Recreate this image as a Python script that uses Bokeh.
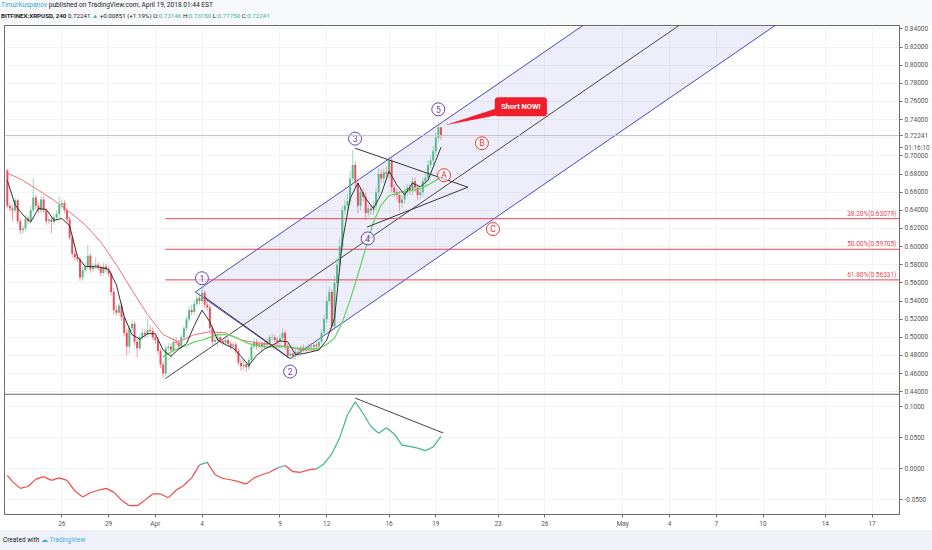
from bokeh.core.properties import value
from bokeh.embed import file_html
from bokeh.layouts import column
from bokeh.models import ColumnDataSource, Div, FixedTicker, Range1d, Span
from bokeh.plotting import figure
from bokeh.resources import INLINE

# 4h candles; time is in days from Apr 1 00:00
T0 = -9.5
STEP = 1 / 6
open_first = 0.684
close = [
    0.645, 0.642, 0.640, 0.651, 0.628, 0.618, 0.620, 0.631, 0.628, 0.640, 0.654, 0.645,
    0.640, 0.652, 0.640, 0.628, 0.630, 0.627, 0.632, 0.636, 0.646, 0.648, 0.640, 0.630,
    0.610, 0.592, 0.588, 0.586, 0.566, 0.574, 0.578, 0.590, 0.575, 0.578, 0.580, 0.577,
    0.571, 0.578, 0.575, 0.570, 0.550, 0.530, 0.527, 0.535, 0.522, 0.505, 0.490, 0.510,
    0.515, 0.495, 0.488, 0.500, 0.505, 0.503, 0.508, 0.507, 0.500, 0.497, 0.485, 0.470,
    0.460, 0.488, 0.490, 0.486, 0.495, 0.494, 0.490, 0.500, 0.510, 0.520, 0.530, 0.528,
    0.537, 0.543, 0.540, 0.549, 0.536, 0.533, 0.510, 0.495, 0.497, 0.500, 0.496, 0.494,
    0.497, 0.493, 0.490, 0.492, 0.485, 0.472, 0.468, 0.470, 0.467, 0.475, 0.490, 0.495,
    0.490, 0.493, 0.490, 0.494, 0.492, 0.500, 0.500, 0.497, 0.495, 0.499, 0.505, 0.490,
    0.480, 0.482, 0.479, 0.484, 0.483, 0.488, 0.486, 0.488, 0.490, 0.489, 0.492, 0.490,
    0.495, 0.505, 0.520, 0.540, 0.550, 0.512, 0.560, 0.580, 0.600, 0.640, 0.645, 0.650,
    0.675, 0.690, 0.670, 0.645, 0.660, 0.655, 0.637, 0.642, 0.640, 0.645, 0.660, 0.680,
    0.675, 0.682, 0.680, 0.695, 0.665, 0.660, 0.657, 0.648, 0.652, 0.660, 0.665, 0.662,
    0.672, 0.665, 0.657, 0.660, 0.672, 0.676, 0.690, 0.695, 0.705, 0.720, 0.73146, 0.72241,
]
# wick lengths in thousandths
up_wick = [
    2, 3, 4, 3, 2, 3, 3, 4, 3, 5, 22, 3,
    4, 3, 3, 2, 3, 3, 3, 4, 9, 4, 3, 2,
    3, 3, 4, 3, 3, 4, 4, 12, 3, 4, 8, 3,
    3, 4, 3, 3, 3, 4, 5, 3, 3, 3, 4, 3,
    4, 3, 3, 3, 5, 4, 12, 6, 4, 3, 3, 3,
    3, 3, 4, 3, 4, 5, 3, 3, 3, 4, 4, 6,
    4, 4, 5, 6, 3, 4, 4, 3, 4, 5, 3, 3,
    4, 3, 3, 3, 3, 3, 4, 5, 3, 3, 3, 4,
    3, 4, 3, 3, 4, 3, 4, 3, 3, 4, 5, 3,
    3, 4, 3, 3, 4, 3, 4, 3, 3, 4, 3, 3,
    3, 4, 5, 5, 6, 3, 8, 8, 10, 5, 6, 8,
    8, 16, 4, 5, 6, 5, 4, 4, 4, 5, 5, 6,
    5, 5, 6, 5, 4, 4, 4, 4, 5, 4, 4, 4,
    5, 4, 3, 4, 4, 5, 5, 5, 6, 6, 6, 0,
]
dn_wick = [
    3, 3, 12, 3, 3, 4, 4, 3, 4, 3, 3, 4,
    3, 3, 3, 4, 3, 12, 3, 3, 4, 3, 3, 4,
    3, 4, 3, 3, 4, 3, 3, 3, 4, 3, 3, 4,
    4, 3, 3, 3, 4, 5, 3, 3, 4, 4, 10, 8,
    3, 4, 10, 3, 3, 4, 3, 3, 3, 4, 4, 4,
    5, 3, 3, 8, 3, 3, 4, 3, 3, 3, 3, 4,
    3, 3, 4, 3, 4, 4, 4, 5, 4, 8, 3, 3,
    4, 3, 4, 3, 4, 3, 5, 4, 5, 3, 3, 3,
    4, 3, 6, 3, 3, 4, 3, 3, 3, 3, 3, 4,
    3, 4, 3, 3, 4, 3, 3, 4, 3, 3, 3, 3,
    3, 3, 3, 4, 4, 6, 4, 4, 5, 5, 5, 5,
    5, 5, 5, 8, 5, 5, 8, 5, 5, 5, 5, 5,
    5, 5, 5, 5, 5, 5, 5, 8, 5, 5, 5, 5,
    5, 5, 6, 5, 5, 4, 4, 4, 5, 5, 5, 5,
]

# moving averages
black_ma = [  # every 3rd candle from 0, then the last one
    0.673, 0.646, 0.635, 0.627, 0.642, 0.641, 0.629, 0.631, 0.623, 0.589, 0.578, 0.578,
    0.577, 0.575, 0.558, 0.523, 0.503, 0.498, 0.504, 0.504, 0.486, 0.479, 0.487, 0.493,
    0.513, 0.530, 0.517, 0.497, 0.492, 0.488, 0.479, 0.469, 0.480, 0.487, 0.491, 0.496,
    0.495, 0.481, 0.482, 0.484, 0.486, 0.497, 0.521, 0.605, 0.653, 0.670, 0.653, 0.642,
    0.658, 0.683, 0.668, 0.657, 0.670, 0.666, 0.673, 0.695, 0.7095,
]
green_ma = [  # every 3rd candle from 60, then the last one
    0.4785, 0.484, 0.488, 0.491, 0.495, 0.497, 0.500, 0.503, 0.503, 0.501, 0.497, 0.493,
    0.491, 0.4895, 0.4895, 0.4895, 0.4895, 0.488, 0.488, 0.487, 0.488, 0.492, 0.499, 0.517,
    0.541, 0.569, 0.598, 0.627, 0.646, 0.656, 0.659, 0.661, 0.662, 0.664, 0.668, 0.673,
    0.6765,
]
red_ma = [  # every 6th candle from 0 to 120
    0.681, 0.673, 0.662, 0.651, 0.638, 0.624, 0.605, 0.580, 0.552, 0.525, 0.503, 0.495,
    0.503, 0.506, 0.505, 0.497, 0.494, 0.492, 0.4895, 0.486, 0.486,
]
osc = [  # candle 0, then every 3rd candle from 2
    -0.011,
    -0.021, -0.032, -0.029, -0.017, -0.013, -0.019, -0.015, -0.019, -0.036, -0.046,
    -0.039, -0.035, -0.032, -0.038, -0.051, -0.060, -0.060, -0.051, -0.041, -0.041,
    -0.047, -0.035, -0.027, -0.015, 0.006, 0.010, -0.010, -0.016, -0.018, -0.021,
    -0.025, -0.015, -0.010, -0.006, 0.001, 0.005, -0.005, -0.006, -0.002, -0.0005,
    0.008, 0.024, 0.050, 0.087, 0.108, 0.089, 0.068, 0.057, 0.066, 0.056,
    0.038, 0.036, 0.033, 0.029, 0.035, 0.052,
]

x_ticks = [-6, -3, 0, 3, 8, 11, 15, 18, 22, 25, 30, 33, 36, 39, 43, 46]
x_labels = ["26", "29", "Apr", "4", "9", "12", "16", "19", "23", "26", "May", "4", "7", "10", "14", "17"]
price_ticks = [0.44, 0.46, 0.48, 0.50, 0.52, 0.54, 0.56, 0.58, 0.60, 0.62, 0.64,
               0.66, 0.68, 0.70, 0.72, 0.74, 0.76, 0.78, 0.80, 0.82, 0.84]
osc_ticks = [-0.05, 0.0, 0.05, 0.10]

last_price = 0.72241
countdown = "01:16:10"
countdown_at = 0.7089
fib_levels = [0.63079, 0.59705, 0.56331]
fib_names = ["38.20%", "50.00%", "61.80%"]
fib_start = 0.641

# drawings (day, price)
fork_a = (0.641, 0.4545)
fork_b = (2.564, 0.550)
fork_c = (8.654, 0.4763)
wave12_line = ([3.14, 8.59], [0.5445, 0.4774])
tri_top = ([12.82, 20.06], [0.7084, 0.6655])
tri_bottom = ([13.59, 20.06], [0.6215, 0.6655])
osc_trend = ([12.82, 18.48], [0.114, 0.0575])

wave_text = ["1", "2", "3", "4", "5"]
wave_d = [2.99, 8.65, 12.82, 13.63, 18.16]
wave_p = [0.5651, 0.4623, 0.719, 0.609, 0.7513]
abc_text = ["A", "B", "C"]
abc_d = [18.53, 20.96, 21.67]
abc_p = [0.6787, 0.7139, 0.6193]

note_box = (21.79, 25.13, 0.7645, 0.7436)  # left, right, top, bottom
note_tip = ([18.59, 21.92, 21.92], [0.7337, 0.7524, 0.7447])

X0, X1 = -9.68, 47.76
P0, P1 = 0.3047, 0.8437
O0, O1 = -0.0742, 0.716
PANE_SPLIT = 0.4372

UP, DOWN = "#53b987", "#eb4d5c"
FONT = "Roboto"
W = 932

t = [T0 + i * STEP for i in range(len(close))]
opn = [open_first] + close[:-1]
hi = [max(o, c) + w / 1000 for o, c, w in zip(opn, close, up_wick)]
lo = [min(o, c) - w / 1000 for o, c, w in zip(opn, close, dn_wick)]
col = [UP if c >= o else DOWN for o, c in zip(opn, close)]
candles = ColumnDataSource(dict(t=t, o=opn, c=close, h=hi, l=lo, color=col))

p = figure(width=W, height=505, x_range=Range1d(X0, X1), y_range=Range1d(P0, P1),
           y_axis_location="right", output_backend="svg", toolbar_location=None,
           min_border_left=4, min_border_top=0, min_border_bottom=12, min_border_right=32)
p.extra_y_ranges = {"osc": Range1d(O0, O1)}
p.outline_line_color = "#6b6b6b"
p.background_fill_color = "white"
p.border_fill_color = "white"


def osc_to_price(v):
    return P0 + (v - O0) * (P1 - P0) / (O1 - O0)


# axes; the live price and countdown take the place of the 0.72 label
grid_ticks = [osc_to_price(v) for v in osc_ticks] + price_ticks
axis_ticks = [v for v in grid_ticks if v != 0.72] + [last_price, countdown_at]
y_over = {osc_to_price(v): f"{v:.4f}" for v in osc_ticks}
y_over.update({v: f"{v:.5f}" for v in price_ticks if v != 0.72})
y_over[last_price] = f"{last_price:.5f}"
y_over[countdown_at] = countdown
p.yaxis.ticker = FixedTicker(ticks=axis_ticks)
p.yaxis.major_label_overrides = y_over
p.xaxis.ticker = FixedTicker(ticks=x_ticks)
p.xaxis.major_label_overrides = dict(zip(x_ticks, x_labels))
for ax in (p.xaxis[0], p.yaxis[0]):
    ax.axis_line_color = "#6b6b6b"
    ax.major_tick_line_color = "#6b6b6b"
    ax.major_tick_out = 3
    ax.major_tick_in = 0
    ax.minor_tick_line_color = None
    ax.major_label_text_font_size = "6.5px"
    ax.major_label_text_color = "#555555"
    ax.major_label_text_font = FONT
    ax.major_label_standoff = 2
p.xgrid.ticker = FixedTicker(ticks=x_ticks)
p.ygrid.ticker = FixedTicker(ticks=grid_ticks)
p.grid.grid_line_color = "#f2f3f5"

# pane separator and last price line
p.add_layout(Span(location=PANE_SPLIT, dimension="width", line_color="#6b6b6b", line_width=1))
p.add_layout(Span(location=last_price, dimension="width", line_color="#c4c4c4", line_width=1))

# pitchfork
mid = ((fork_b[0] + fork_c[0]) / 2, (fork_b[1] + fork_c[1]) / 2)
slope = (mid[1] - fork_a[1]) / (mid[0] - fork_a[0])
far = 60.0


def prong(pt):
    return [pt[0], far], [pt[1], pt[1] + slope * (far - pt[0])]


ub, uc = prong(fork_b), prong(fork_c)
p.patch([ub[0][0], ub[0][1], uc[0][1], uc[0][0]], [ub[1][0], ub[1][1], uc[1][1], uc[1][0]],
        fill_color="#5c5cd6", fill_alpha=0.1, line_color=None)
p.line(*ub, line_color="#4848c0", line_width=1)
p.line(*uc, line_color="#4848c0", line_width=1)
p.line([fork_b[0], fork_c[0]], [fork_b[1], fork_c[1]], line_color="#4848c0", line_width=1)
p.line(*prong(fork_a), line_color="#444444", line_width=1)

# fibonacci levels
for lvl in fib_levels:
    p.segment(x0=fib_start, x1=X1, y0=lvl, y1=lvl, line_color="#e8474f", line_width=1)
p.text(x=[X1 - 0.2] * 3, y=fib_levels, text=[f"{n}({v:.5f})" for n, v in zip(fib_names, fib_levels)],
       text_align="right", text_baseline="bottom", text_font_size="6.5px", text_color="#e8474f",
       text_font=value(FONT), y_offset=-1)

# candles
p.segment(x0="t", x1="t", y0="l", y1="h", color="color", line_alpha=0.55, line_width=1, source=candles)
p.vbar(x="t", width=STEP * 0.75, top="o", bottom="c", fill_color="color", line_color=None, source=candles)

# moving averages
p.line([t[i] for i in range(0, 121, 6)], red_ma, line_color="#ef6f75", line_width=1)
p.line([t[i] for i in list(range(60, 166, 3)) + [167]], green_ma, line_color="#5bd65b", line_width=1.2)
p.line([t[i] for i in list(range(0, 166, 3)) + [167]], black_ma, line_color="#333333", line_width=1)

# other drawings
p.line(*wave12_line, line_color="#333333", line_width=1)
p.line(*tri_top, line_color="#333333", line_width=1)
p.line(*tri_bottom, line_color="#333333", line_width=1)

p.scatter(wave_d, wave_p, marker="circle", size=13, fill_color="white", fill_alpha=0.6,
          line_color="#6a3cc0", line_width=1)
p.text(wave_d, wave_p, text=wave_text, text_align="center", text_baseline="middle",
       text_font_size="8.5px", text_color="#6a3cc0", text_font=value(FONT))
p.scatter(abc_d, abc_p, marker="circle", size=13, fill_color="white", fill_alpha=0.6,
          line_color="#e53935", line_width=1)
p.text(abc_d, abc_p, text=abc_text, text_align="center", text_baseline="middle",
       text_font_size="8.5px", text_color="#e53935", text_font=value(FONT))

p.patch(*note_tip, fill_color="#f21d2b", line_color=None)
p.quad(left=note_box[0], right=note_box[1], top=note_box[2], bottom=note_box[3],
       fill_color="#f21d2b", line_color=None, border_radius=3)
p.text([(note_box[0] + note_box[1]) / 2], [(note_box[2] + note_box[3]) / 2], text=["Short NOW!"],
       text_align="center", text_baseline="middle", text_font_size="7.5px", text_color="white",
       text_font=value(FONT), text_font_style="bold")

# oscillator pane
osc_x = [t[0]] + [t[i] for i in range(2, 168, 3)]
seg_col = ["#3fb592" if (a + b) > 0 else "#f04a4a" for a, b in zip(osc[:-1], osc[1:])]
p.segment(x0=osc_x[:-1], x1=osc_x[1:], y0=osc[:-1], y1=osc[1:], line_color=seg_col,
          line_width=1.2, y_range_name="osc")
p.line(*osc_trend, line_color="#444444", line_width=1, y_range_name="osc")

green = "color:#3fb592"
header = Div(
    text=("<div style='font-size:6.6px'><span style='color:#3ba3dd'>TimurKuspanov</span> "
          "published on TradingView.com, April 19, 2018 01:44 EST</div>"
          "<div style='font-size:6.2px'><b>BITFINEX:XRPUSD, 240</b> 0.72241 "
          f"<span style='{green}'>&#9650;</span> +0.00851 (+1.19%) "
          f"O:<span style='{green}'>0.73146</span> H:<span style='{green}'>0.73150</span> "
          f"L:<span style='{green}'>0.71750</span> C:<span style='{green}'>0.72241</span></div>"),
    width=W, height=25, margin=(0, 0, 0, 0),
    styles={"font-family": FONT, "line-height": "11px", "color": "#222",
            "padding-left": "1px", "box-sizing": "border-box", "background-color": "#f7f8fa"},
)
footer = Div(
    text="Created with <span style='color:#45aee5'>&#9729; TradingView</span>",
    width=W, height=20, margin=(0, 0, 0, 0),
    styles={"font-family": FONT, "font-size": "6.5px", "line-height": "20px", "color": "#222",
            "padding-left": "3px", "box-sizing": "border-box", "background-color": "#eef2f8"},
)

layout = column(header, p, footer, spacing=0)
open("out.html", "w").write(file_html(layout, INLINE))
